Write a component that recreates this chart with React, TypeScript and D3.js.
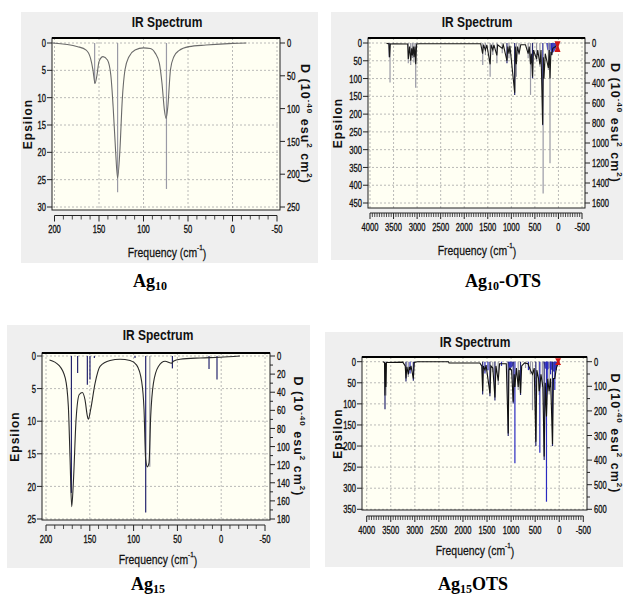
import React from "react";
import * as d3 from "d3";

// ---------- DATA ----------
const AG10_CURVE: [number, number][] = [
  [202, 0.0], [173.9, 0.67], [164.4, 1.3], [159.5, 2.8], [156.8, 4.9], [154.5, 7.4], [152.3, 5.9], [150, 3.4],
  [145.5, 2.5], [140.5, 3.1], [136.7, 5.9], [134.1, 11.7], [131.4, 19.6], [129.1, 24.7], [126.5, 19.6], [123.9, 10.5],
  [120.8, 4.9], [116.3, 2.5], [109.5, 1.3], [100, 0.9], [92.4, 1.0], [86.7, 1.9], [82.2, 3.7], [79.2, 7.4], [76.5, 12.3],
  [74.6, 13.8], [72.7, 11.7], [69.7, 4.9], [65.9, 2.5], [60.2, 1.4], [48.9, 0.67], [29.9, 0.37], [-0.4, 0.06], [-15.6, 0],
];
const AG10_STICKS: [number, number, string][] = [
  [154.9, 7.4, "g"], [129.1, 27.3, "g"], [74.2, 26.7, "g"],
];
const AG10_XTICKS = [200, 150, 100, 50, 0, -50];
const AG10_YTICKS = [0, 5, 10, 15, 20, 25, 30];
const AG10_RTICKS = [0, 50, 100, 150, 200, 250];

const AG15_CURVE: [number, number][] = [
  [196, 0.6], [185.5, 1.4], [178, 3.4], [174.5, 7.7], [172.6, 15.4], [170.7, 23.1], [168.8, 19.5], [165.7, 9.8],
  [162, 5.9], [158.5, 5.6], [155.5, 6.7], [152.8, 9.2], [151.7, 9.7], [149, 8.2], [144, 4.2], [138.3, 1.6],
  [126.9, 0.7], [115.5, 0.5], [104, 0.7], [96.5, 1.4], [90.8, 3.9], [88.1, 8.2], [86.2, 15.9], [84.3, 17],
  [82.4, 16.4], [80.5, 9.3], [77.4, 4.2], [71.7, 1.6], [64.1, 0.8], [56.5, 1.1], [54.6, 0.8], [47, 0.5],
  [24.2, 0.3], [1.4, 0.2], [-21.4, 0],
];
const AG15_STICKS: [number, number, string][] = [
  [171, 21, "k"], [163.9, 2.6, "k"], [152.8, 4.4, "k"], [149.8, 3.6, "k"], [144.8, 0.3, "k"], [98.4, 0.3, "k"],
  [86.2, 24, "k"], [81.5, 17, "g"], [55.7, 1.9, "k"], [13.9, 2.0, "k"], [4.8, 3.6, "k"],
];
const AG15_XTICKS = [200, 150, 100, 50, 0, -50];
const AG15_YTICKS = [0, 5, 10, 15, 20, 25];
const AG15_RTICKS = [0, 20, 40, 60, 80, 100, 120, 140, 160, 180];

const OTS_XTICKS = [4000, 3500, 3000, 2500, 2000, 1500, 1000, 500, 0, -500];

const AG10OTS_CURVE: [number, number][] = [
  [3650, 1], [3600, 2], [3585, 40], [3570, 3], [3500, 2], [3200, 3], [3187, 45], [3160, 10], [3136, 50], [3115, 15],
  [3100, 35], [3080, 10], [3066, 40], [3045, 10], [3030, 60], [3010, 3], [2950, 2], [1650, 2], [1610, 30], [1590, 5],
  [1550, 20], [1520, 5], [1450, 60], [1430, 5], [1393, 20], [1370, 5], [1307, 35], [1290, 5], [1193, 15], [1170, 5],
  [1093, 50], [1075, 10], [1050, 30], [1030, 8], [929, 140], [915, 10], [893, 60], [870, 10], [836, 30], [800, 5],
  [700, 5], [643, 30], [620, 10], [593, 60], [575, 30], [550, 95], [530, 20], [464, 45], [440, 20], [393, 60],
  [370, 20], [336, 230], [320, 40], [307, 100], [280, 30], [214, 70], [195, 20], [179, 100], [160, 25], [143, 34],
  [120, 15], [60, 10], [30, 5], [10, 0],
];
const AG10OTS_STICKS: [number, number, string][] = [
  [3590, 40, "k"], [3575, 111, "g"], [3187, 57, "g"], [3136, 62, "g"], [3100, 42, "g"], [3066, 55, "g"], [3030, 126, "g"],
  [1607, 62, "g"], [1550, 34, "g"], [1450, 95, "g"], [1393, 34, "g"], [1307, 57, "g"], [1193, 29, "g"], [1093, 57, "k"],
  [1050, 43, "g"], [929, 146, "k"], [893, 95, "g"], [836, 34, "g"], [643, 43, "g"], [593, 146, "g"], [550, 99, "k"],
  [464, 52, "g"], [393, 67, "g"], [336, 231, "b"], [325, 423, "g"], [214, 76, "g"], [179, 338, "g"], [143, 34, "b"],
];
const AG10OTS_BLUE: [number, number][][] = [
  [[345, 0], [340, 230], [330, 230], [325, 0]],
  [[260, 0], [240, 18], [200, 25], [160, 20], [120, 28], [80, 22], [50, 15], [30, 0]],
];
const AG10OTS_RED: [number, number, number][] = [[20, -5, 25]];
const AG10OTS_YTICKS = [0, 50, 100, 150, 200, 250, 300, 350, 400, 450];
const AG10OTS_RTICKS = [0, 200, 400, 600, 800, 1000, 1200, 1400, 1600];

const AG15OTS_CURVE: [number, number][] = [
  [3660, 0], [3630, 2], [3620, 80], [3610, 3], [3600, 60], [3590, 2], [3250, 1], [3200, 10], [3184, 40], [3165, 12],
  [3136, 30], [3115, 12], [3100, 20], [3080, 10], [3031, 40], [3010, 2], [2950, 0], [2300, 0], [2290, 3], [1650, 3],
  [1610, 10], [1591, 70], [1575, 10], [1543, 20], [1520, 8], [1440, 75], [1420, 10], [1380, 15], [1336, 85], [1315, 10],
  [1267, 45], [1240, 5], [1100, 5], [1060, 170], [1045, 20], [1025, 15], [990, 20], [956, 95], [935, 30], [921, 60],
  [890, 15], [852, 60], [835, 20], [804, 75], [780, 10], [720, 3], [650, 5], [600, 20], [555, 30], [520, 15],
  [486, 190], [465, 20], [430, 40], [417, 70], [403, 60], [380, 30], [340, 60], [313, 225], [290, 50], [265, 130],
  [240, 40], [210, 70], [180, 40], [140, 195], [120, 40], [92, 40], [60, 15], [20, 3], [0, 0],
];
const AG15OTS_STICKS: [number, number, string][] = [
  [3620, 113, "k"], [3600, 80, "g"], [3184, 47, "k"], [3136, 36, "g"], [3100, 28, "b"], [3031, 45, "k"],
  [1591, 78, "k"], [1543, 28, "b"], [1480, 20, "b"], [1440, 82, "k"], [1380, 25, "g"], [1336, 92, "k"], [1267, 55, "g"],
  [1200, 10, "b"], [1060, 176, "k"], [1025, 20, "b"], [956, 99, "k"], [921, 241, "b"], [852, 67, "g"], [804, 79, "k"],
  [700, 15, "g"], [640, 20, "b"], [600, 30, "g"], [555, 115, "g"], [486, 200, "k"], [417, 79, "g"], [403, 216, "b"],
  [350, 60, "g"], [313, 233, "k"], [265, 332, "b"], [250, 40, "b"], [210, 78, "g"], [180, 30, "b"], [140, 200, "k"],
  [92, 67, "b"], [60, 20, "b"],
];
const AG15OTS_BLUE: [number, number][][] = [
  [[1070, 0], [1050, 12], [1000, 15], [960, 10], [940, 0]],
  [[330, 0], [300, 15], [250, 20], [200, 15], [150, 20], [100, 25], [60, 15], [30, 0]],
];
const AG15OTS_RED: [number, number, number][] = [[23, -8, 8]];
const AG15OTS_YTICKS = [0, 50, 100, 150, 200, 250, 300, 350];
const AG15OTS_RTICKS = [0, 100, 200, 300, 400, 500, 600];

// ---------- STYLE ----------
const SANS = "'Liberation Sans', Arial, sans-serif";
const SERIF = "'Liberation Serif', 'Times New Roman', serif";
const STICK_COLORS: Record<string, string> = { g: "#9a9aa6", k: "#26266e", b: "#2a2ac0" };
const TICK_SX = 0.66;

function CText(props: {
  x: number;
  y: number;
  sx: number;
  anchor?: string;
  size: number;
  weight?: string;
  thick?: number;
  children: React.ReactNode;
}) {
  return (
    <text
      transform={`translate(${props.x},${props.y}) scale(${props.sx},1)`}
      textAnchor={props.anchor || "middle"}
      dominantBaseline="central"
      fontFamily={SANS}
      fontSize={props.size}
      fontWeight={props.weight || "normal"}
      fill="#111"
      stroke={props.thick ? "#111" : "none"}
      strokeWidth={props.thick || 0}
    >
      {props.children}
    </text>
  );
}

type Cfg = {
  bg: [number, number, number, number];
  box: [number, number, number, number];
  xAxisY: number;
  xDomain: [number, number];
  xRange: [number, number];
  xTicks: number[];
  xMinor: number;
  yDomain: [number, number];
  yRange: [number, number];
  yTicks: number[];
  rDomain: [number, number];
  rTicks: number[];
  rMinor: number;
  curve: [number, number][];
  curveColor: string;
  smooth: boolean;
  sticks: [number, number, string][];
  blue?: [number, number][][];
  red?: [number, number, number][];
  titleX: number;
  titleY: number;
  freqY: number;
  epsX: number;
  dX: number;
  capX: number;
  capY: number;
  capSub: string;
  capTail: string;
  id: string;
};

function Panel({ c }: { c: Cfg }) {
  const x = d3.scaleLinear().domain(c.xDomain).range(c.xRange);
  const y = d3.scaleLinear().domain(c.yDomain).range(c.yRange);
  const r = d3.scaleLinear().domain(c.rDomain).range(c.yRange);
  const [bx0, by0, bx1, by1] = c.box;
  const line = d3
    .line<[number, number]>()
    .x((d) => x(d[0]))
    .y((d) => y(d[1]))
    .curve(c.smooth ? d3.curveMonotoneX : d3.curveLinear);
  const area = d3
    .area<[number, number]>()
    .x((d) => x(d[0]))
    .y0(y(0))
    .y1((d) => y(d[1]));
  const xMinorTicks = d3
    .range(Math.min(...c.xDomain), Math.max(...c.xDomain) + 1e-9, c.xMinor)
    .filter((v) => !c.xTicks.includes(v));
  const rMinorTicks = d3
    .range(c.rDomain[0], c.rDomain[1] + 1e-9, c.rMinor)
    .filter((v) => !c.rTicks.includes(v));
  const midY = (by0 + by1) / 2;
  const clip = `clip-${c.id}`;
  return (
    <g>
      <rect x={c.bg[0]} y={c.bg[1]} width={c.bg[2] - c.bg[0]} height={c.bg[3] - c.bg[1]} fill="#efefef" />
      <defs>
        <clipPath id={clip}>
          <rect x={bx0} y={by0} width={bx1 - bx0} height={by1 - by0} />
        </clipPath>
      </defs>
      <rect x={bx0} y={by0} width={bx1 - bx0} height={by1 - by0} fill="#fffff3" />
      {/* grid */}
      <g stroke="#a8a8a8" strokeWidth={0.8} strokeDasharray="2,2">
        {c.xTicks.map((t) => (
          <line key={"gx" + t} x1={x(t)} x2={x(t)} y1={by0} y2={by1} />
        ))}
        {c.yTicks.map((t) => (
          <line key={"gy" + t} x1={bx0} x2={bx1} y1={y(t)} y2={y(t)} />
        ))}
      </g>
      <g clipPath={`url(#${clip})`}>
        {(c.blue || []).map((p, i) => (
          <path key={"bl" + i} d={area(p) || ""} fill="#2323b8" opacity={0.85} />
        ))}
        {c.sticks.map((s, i) => (
          <line
            key={"s" + i}
            x1={x(s[0])}
            x2={x(s[0])}
            y1={y(0)}
            y2={y(s[1])}
            stroke={STICK_COLORS[s[2]]}
            strokeWidth={1.2}
          />
        ))}
        <path d={line(c.curve) || ""} fill="none" stroke={c.curveColor} strokeWidth={1.1} />
        {(c.red || []).map((m, i) => {
          const cx = x(m[0]);
          const t = y(m[1]);
          const b = y(m[2]);
          const mid = (t + b) / 2;
          return (
            <path
              key={"r" + i}
              d={`M${cx - 3},${t} L${cx + 3},${t} L${cx + 1},${mid} L${cx + 3},${b} L${cx - 3},${b} L${cx - 1},${mid} Z`}
              fill="#d01818"
            />
          );
        })}
      </g>
      {/* box */}
      <rect x={bx0} y={by0} width={bx1 - bx0} height={by1 - by0} fill="none" stroke="#222" strokeWidth={1} />
      <line x1={bx0} x2={bx1} y1={by0} y2={by0} stroke="#000" strokeWidth={2} />
      {/* left axis */}
      {c.yTicks.map((t) => (
        <g key={"ly" + t}>
          <line x1={bx0 - 5} x2={bx0} y1={y(t)} y2={y(t)} stroke="#222" />
          <CText x={bx0 - 6} y={y(t)} sx={TICK_SX} anchor="end" size={11.5} thick={0.35}>
            {t}
          </CText>
        </g>
      ))}
      {/* right axis */}
      {c.rTicks.map((t) => (
        <g key={"ry" + t}>
          <line x1={bx1} x2={bx1 + 5} y1={r(t)} y2={r(t)} stroke="#222" />
          <CText x={bx1 + 7} y={r(t)} sx={TICK_SX} anchor="start" size={11.5} thick={0.35}>
            {t}
          </CText>
        </g>
      ))}
      {rMinorTicks.map((t) => (
        <line key={"rm" + t} x1={bx1} x2={bx1 + 3} y1={r(t)} y2={r(t)} stroke="#222" />
      ))}
      {/* x axis */}
      <line x1={x(c.xDomain[0])} x2={x(c.xDomain[1])} y1={c.xAxisY} y2={c.xAxisY} stroke="#222" />
      {c.xTicks.map((t) => (
        <g key={"xt" + t}>
          <line x1={x(t)} x2={x(t)} y1={c.xAxisY} y2={c.xAxisY + 6} stroke="#222" />
          <CText x={x(t)} y={c.xAxisY + 13.5} sx={TICK_SX} size={11.5} thick={0.35}>
            {t}
          </CText>
        </g>
      ))}
      {xMinorTicks.map((t) => (
        <line key={"xm" + t} x1={x(t)} x2={x(t)} y1={c.xAxisY} y2={c.xAxisY + 4} stroke="#222" strokeWidth={0.8} />
      ))}
      {/* titles */}
      <CText x={c.titleX} y={c.titleY} sx={0.8} size={15} weight="bold">
        IR Spectrum
      </CText>
      <CText x={c.titleX} y={c.freqY} sx={0.8} size={13} thick={0.25}>
        Frequency (cm<tspan fontSize={8} dy={-5}>-1</tspan>
        <tspan dy={5}>)</tspan>
      </CText>
      <text
        transform={`translate(${c.epsX},${midY}) rotate(-90)`}
        textAnchor="middle"
        dominantBaseline="central"
        fontFamily={SANS}
        fontWeight="bold"
        fontSize={12}
        letterSpacing={1}
        fill="#111"
      >
        Epsilon
      </text>
      <text
        transform={`translate(${c.dX},${midY}) rotate(90)`}
        textAnchor="middle"
        dominantBaseline="central"
        fontFamily={SANS}
        fontWeight="bold"
        fontSize={12.5}
        letterSpacing={1}
        fill="#111"
      >
        D (10<tspan fontSize={8} dy={-5}>-40</tspan>
        <tspan dy={5}> esu</tspan>
        <tspan fontSize={8} dy={-5}>2</tspan>
        <tspan dy={5}> cm</tspan>
        <tspan fontSize={8} dy={-5}>2</tspan>
        <tspan dy={5}>)</tspan>
      </text>
      <text x={c.capX} y={c.capY} textAnchor="middle" fontFamily={SERIF} fontWeight="bold" fontSize={18} fill="#000">
        Ag<tspan fontSize={12} dy={3}>{c.capSub}</tspan>
        <tspan dy={-3}>{c.capTail}</tspan>
      </text>
    </g>
  );
}

const PANELS: Cfg[] = [
  {
    id: "p1",
    bg: [21, 12, 318, 263],
    box: [52, 38, 280, 210],
    xAxisY: 215.5,
    xDomain: [200, -50],
    xRange: [54.5, 277],
    xTicks: AG10_XTICKS,
    xMinor: 10,
    yDomain: [0, 30],
    yRange: [43, 207],
    yTicks: AG10_YTICKS,
    rDomain: [0, 250],
    rTicks: AG10_RTICKS,
    rMinor: 250,
    curve: AG10_CURVE,
    curveColor: "#6a6a6a",
    smooth: true,
    sticks: AG10_STICKS,
    titleX: 167,
    titleY: 22,
    freqY: 252,
    epsX: 28,
    dX: 305,
    capX: 150,
    capY: 287,
    capSub: "10",
    capTail: "",
  },
  {
    id: "p2",
    bg: [331, 12, 623, 260],
    box: [368, 38, 585, 208],
    xAxisY: 213,
    xDomain: [4000, -500],
    xRange: [370, 582],
    xTicks: OTS_XTICKS,
    xMinor: 50,
    yDomain: [0, 450],
    yRange: [43, 203],
    yTicks: AG10OTS_YTICKS,
    rDomain: [0, 1600],
    rTicks: AG10OTS_RTICKS,
    rMinor: 100,
    curve: AG10OTS_CURVE,
    curveColor: "#1a1a1a",
    smooth: false,
    sticks: AG10OTS_STICKS,
    blue: AG10OTS_BLUE,
    red: AG10OTS_RED,
    titleX: 477,
    titleY: 22,
    freqY: 250,
    epsX: 338,
    dX: 615,
    capX: 503,
    capY: 287,
    capSub: "10",
    capTail: "-OTS",
  },
  {
    id: "p3",
    bg: [7, 325, 310, 568],
    box: [42, 353, 270, 520],
    xAxisY: 525,
    xDomain: [200, -50],
    xRange: [46, 265],
    xTicks: AG15_XTICKS,
    xMinor: 10,
    yDomain: [0, 25],
    yRange: [356, 519],
    yTicks: AG15_YTICKS,
    rDomain: [0, 180],
    rTicks: AG15_RTICKS,
    rMinor: 10,
    curve: AG15_CURVE,
    curveColor: "#2a2a2a",
    smooth: true,
    sticks: AG15_STICKS,
    titleX: 158,
    titleY: 335,
    freqY: 559,
    epsX: 15,
    dX: 298,
    capX: 148,
    capY: 590,
    capSub: "15",
    capTail: "",
  },
  {
    id: "p4",
    bg: [325, 332, 623, 567],
    box: [362, 357, 587, 510],
    xAxisY: 516,
    xDomain: [4000, -500],
    xRange: [366.7, 583.3],
    xTicks: OTS_XTICKS,
    xMinor: 50,
    yDomain: [0, 350],
    yRange: [361.7, 509.3],
    yTicks: AG15OTS_YTICKS,
    rDomain: [0, 600],
    rTicks: AG15OTS_RTICKS,
    rMinor: 50,
    curve: AG15OTS_CURVE,
    curveColor: "#111",
    smooth: false,
    sticks: AG15OTS_STICKS,
    blue: AG15OTS_BLUE,
    red: AG15OTS_RED,
    titleX: 475,
    titleY: 342,
    freqY: 550,
    epsX: 338,
    dX: 615,
    capX: 473,
    capY: 590,
    capSub: "15",
    capTail: "OTS",
  },
];

export default function App() {
  return (
    <svg
      width={623}
      height={595}
      style={{ position: "absolute", left: 0, top: 0, background: "#fff" }}
      xmlns="http://www.w3.org/2000/svg"
    >
      <rect x={0} y={0} width={623} height={595} fill="#fff" />
      {PANELS.map((p) => (
        <Panel key={p.id} c={p} />
      ))}
    </svg>
  );
}
